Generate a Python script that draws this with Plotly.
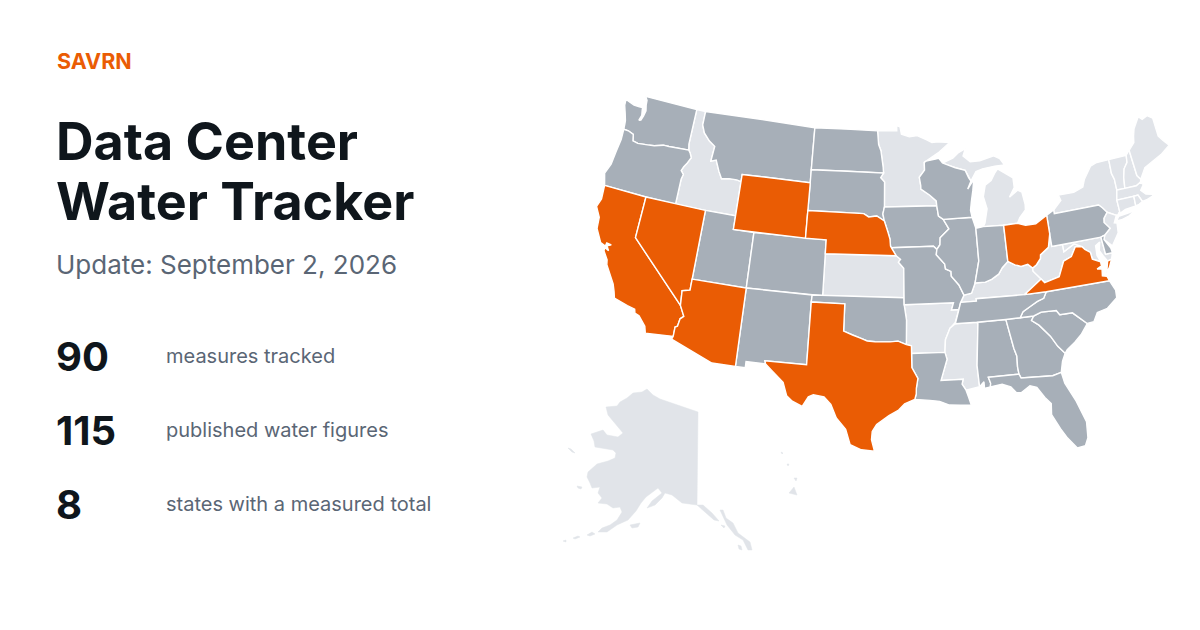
import plotly.graph_objects as go

# state outlines, (lon, lat), read off by hand because the topojson is not reachable
# shared borders live in their own lists so neighbours line up
COLUMBIA = [(-124.0,46.26),(-123.5,46.25),(-122.9,46.1),(-122.75,45.65),(-122.2,45.57),(-121.2,45.65),(-120.5,45.72),(-119.6,45.92),(-119.0,45.93),(-116.92,46.0)]
SNAKE = [(-117.03,42.0),(-117.03,43.83),(-116.92,44.2),(-117.22,44.45),(-117.05,44.75),(-116.83,45.0),(-116.5,45.5),(-116.7,45.8),(-116.92,46.0)]
ID_MT = [(-116.05,49.0),(-116.05,48.0),(-115.7,47.45),(-115.0,46.95),(-114.35,46.65),(-114.45,45.55),(-113.93,45.7),(-113.45,44.95),(-113.05,44.45),(-112.3,44.55),(-111.5,44.55),(-111.05,44.48)]
RED_RIVER = [(-100.0,34.56),(-99.2,34.3),(-98.5,34.1),(-97.9,33.9),(-97.2,33.85),(-96.6,33.85),(-95.9,33.85),(-95.2,33.9),(-94.48,33.64)]
CO_RIVER = [(-114.05,36.2),(-114.74,36.05),(-114.63,35.0),(-114.15,34.27),(-114.43,34.05),(-114.53,33.5),(-114.72,33.4),(-114.72,32.72)]
MO_RIVER = [(-98.5,43.0),(-98.0,42.77),(-97.2,42.85),(-96.45,42.49),(-96.1,41.7),(-95.9,41.2),(-95.85,40.7),(-95.77,40.58),(-95.31,40.0),(-94.9,39.75),(-95.1,39.55),(-94.61,39.11)]
UPPER_MISS = [(-91.22,43.5),(-91.1,42.75),(-90.65,42.5),(-90.15,41.8),(-91.05,41.2),(-91.1,40.7),(-91.42,40.38),(-91.5,40.0),(-90.75,39.3),(-90.7,38.95),(-90.2,38.75),(-90.2,38.4),(-89.55,37.75),(-89.15,37.0)]
LOWER_MISS = [(-89.5,36.5),(-89.7,36.0),(-90.1,35.1),(-90.6,34.7),(-91.05,33.9),(-91.15,33.0),(-91.0,32.5),(-91.6,31.0)]
OHIO_RIVER = [(-82.6,38.4),(-83.0,38.72),(-83.65,38.63),(-84.2,38.8),(-84.82,39.1),(-85.4,38.7),(-85.8,38.27),(-86.5,37.95),(-87.1,37.8),(-88.05,37.8),(-88.45,37.1),(-89.15,37.0)]
OHIO_WV = [(-80.52,40.64),(-80.85,39.7),(-81.7,39.25),(-81.75,39.0),(-82.2,38.6),(-82.6,38.4)]
SC_GA = [(-83.1,35.0),(-83.35,34.7),(-82.75,34.3),(-81.9,33.4),(-81.4,32.6),(-80.87,32.03)]
NC_TN = [(-84.32,35.0),(-84.0,35.4),(-83.2,35.75),(-82.6,36.0),(-82.0,36.15),(-81.68,36.59)]
NC_SC = [(-83.1,35.0),(-82.4,35.2),(-81.05,35.15),(-80.8,34.82),(-79.67,34.8),(-78.55,33.86)]
VA_WV = [(-81.97,37.54),(-81.7,37.25),(-80.3,37.5),(-79.65,38.55),(-78.87,38.77),(-78.35,39.4),(-77.72,39.32)]
VT_NH = [(-71.5,45.01),(-71.6,44.5),(-72.05,44.1),(-72.3,43.5),(-72.46,42.73)]
GULF_LA = [(-89.55,30.2),(-89.4,29.75),(-89.2,29.1),(-90.1,29.15),(-91.0,29.2),(-91.8,29.5),(-92.6,29.6),(-93.85,29.7)]
SABINE = [(-93.85,29.7),(-93.72,30.1),(-93.7,30.5),(-93.55,31.2),(-94.04,31.99),(-94.04,33.0),(-94.04,33.55),(-94.48,33.64)]

WA = [(-122.76,49.0),(-122.5,48.75),(-122.45,48.4),(-122.3,48.0),(-122.4,47.6),(-122.55,47.25),(-122.75,47.2),(-122.6,47.6),(-122.7,47.95),(-122.75,48.15),(-123.1,48.15),(-123.7,48.16),(-124.7,48.38),(-124.65,47.95),(-124.35,47.4),(-124.1,46.9),(-124.05,46.65)] + COLUMBIA + [(-117.04,46.42),(-117.03,49.0)]
OR = COLUMBIA + SNAKE[::-1] + [(-120.0,42.0),(-124.2,42.0),(-124.55,42.84),(-124.2,43.6),(-124.08,44.6),(-123.95,45.5)]
ID = SNAKE + [(-117.04,46.42),(-117.03,49.0)] + ID_MT + [(-111.05,42.0),(-114.04,42.0)]
MT = ID_MT + [(-111.05,45.0),(-104.04,45.0),(-104.05,45.94),(-104.05,49.0)]
WY = [(-111.05,45.0),(-104.04,45.0),(-104.05,43.0),(-104.05,41.0),(-111.05,41.0),(-111.05,42.0)]
UT = [(-114.04,42.0),(-111.05,42.0),(-111.05,41.0),(-109.05,41.0),(-109.05,37.0),(-114.05,37.0)]
CO = [(-109.05,41.0),(-102.05,41.0),(-102.05,40.0),(-102.05,37.0),(-109.05,37.0)]
NV = [(-120.0,42.0),(-114.04,42.0),(-114.05,37.0)] + CO_RIVER[:3] + [(-120.0,39.0)]
CA = [(-124.2,42.0),(-120.0,42.0),(-120.0,39.0)] + CO_RIVER[2:] + [(-117.13,32.53),(-117.3,33.0),(-118.0,33.65),(-118.4,33.75),(-118.5,34.03),(-119.2,34.15),(-120.47,34.45),(-120.65,34.9),(-120.9,35.4),(-121.9,36.6),(-122.0,36.95),(-122.5,37.5),(-122.5,37.75),(-122.1,37.6),(-122.35,37.9),(-122.0,38.05),(-122.45,38.1),(-122.5,37.85),(-123.0,38.0),(-123.7,38.9),(-123.8,39.7),(-124.35,40.4),(-124.1,41.0)]
AZ = [(-114.05,37.0),(-109.05,37.0),(-109.05,31.33),(-111.07,31.33),(-114.81,32.5)] + CO_RIVER[::-1]
NM = [(-109.05,37.0),(-103.0,37.0),(-103.04,36.5),(-103.04,32.0),(-106.62,32.0),(-106.53,31.78),(-108.21,31.78),(-108.21,31.33),(-109.05,31.33)]
TX = [(-103.04,36.5),(-100.0,36.5)] + RED_RIVER + SABINE[::-1] + [(-94.7,29.4),(-95.2,28.95),(-96.0,28.55),(-97.0,27.9),(-97.35,27.4),(-97.4,26.8),(-97.15,25.96),(-98.2,26.05),(-99.1,26.4),(-99.5,27.5),(-100.3,28.3),(-100.8,29.25),(-101.4,29.77),(-102.3,29.88),(-102.7,29.7),(-103.15,28.98),(-104.0,29.3),(-104.5,29.65),(-104.9,30.6),(-106.0,31.4),(-106.53,31.78),(-106.62,32.0),(-103.04,32.0)]
OK = [(-103.0,37.0),(-94.62,37.0),(-94.62,36.5),(-94.43,35.4)] + RED_RIVER[::-1] + [(-100.0,36.5),(-103.04,36.5)]
KS = [(-102.05,40.0),(-95.31,40.0),(-94.9,39.75),(-95.1,39.55),(-94.61,39.11),(-94.62,37.0),(-102.05,37.0)]
NE = [(-104.05,43.0)] + MO_RIVER[:9] + [(-102.05,40.0),(-102.05,41.0),(-104.05,41.0)]
SD = [(-104.05,45.94),(-96.56,45.94),(-96.85,45.6),(-96.45,45.3),(-96.45,43.5),(-96.6,43.0),(-96.45,42.49),(-97.2,42.85),(-98.0,42.77),(-98.5,43.0),(-104.05,43.0)]
ND = [(-104.05,49.0),(-97.23,49.0),(-97.1,48.0),(-96.85,47.55),(-96.6,46.35),(-96.56,45.94),(-104.05,45.94)]
MN = [(-97.23,49.0),(-95.15,49.0),(-95.15,49.38),(-94.8,49.3),(-94.65,48.75),(-93.8,48.55),(-92.95,48.62),(-92.0,48.3),(-91.4,48.07),(-90.75,48.1),(-89.5,48.0),(-90.8,47.3),(-92.1,46.75),(-92.3,46.66),(-92.3,46.1),(-92.87,45.6),(-92.75,45.0),(-92.75,44.75),(-91.9,44.3),(-91.25,43.85),(-91.22,43.5),(-96.45,43.5),(-96.45,45.3),(-96.85,45.6),(-96.56,45.94),(-96.6,46.35),(-96.85,47.55),(-97.1,48.0)]
IA = [(-96.45,43.5)] + UPPER_MISS[:7] + [(-91.73,40.61),(-95.77,40.58),(-95.85,40.7),(-95.9,41.2),(-96.1,41.7),(-96.45,42.49),(-96.6,43.0)]
MO = [(-95.77,40.58),(-91.73,40.61)] + UPPER_MISS[6:] + [(-89.5,36.5),(-89.7,36.0),(-90.37,36.0),(-90.15,36.5),(-94.62,36.5),(-94.62,37.0),(-94.61,39.11),(-95.1,39.55),(-94.9,39.75),(-95.31,40.0)]
AR = [(-94.62,36.5),(-90.15,36.5),(-90.37,36.0)] + LOWER_MISS[1:6] + [(-94.04,33.0),(-94.04,33.55),(-94.48,33.64),(-94.43,35.4)]
LA = [(-94.04,33.0)] + LOWER_MISS[5:] + [(-89.73,31.0),(-89.85,30.65)] + GULF_LA + SABINE[1:5]
MS = [(-90.1,35.0),(-88.2,35.0),(-88.1,34.9),(-88.47,31.9),(-88.4,30.37),(-89.55,30.2),(-89.85,30.65),(-89.73,31.0)] + LOWER_MISS[:2:-1]
AL = [(-88.2,35.0),(-85.6,35.0),(-85.18,32.87),(-85.0,32.3),(-85.05,31.55),(-85.0,31.0),(-87.6,31.0),(-87.45,30.55),(-87.5,30.3),(-88.0,30.23),(-88.0,30.7),(-88.4,30.37),(-88.47,31.9),(-88.1,34.9)]
GA = [(-85.6,35.0)] + SC_GA + [(-81.2,31.5),(-81.45,30.72),(-82.2,30.57),(-84.86,30.7),(-85.0,31.0),(-85.05,31.55),(-85.0,32.3),(-85.18,32.87)]
FL = [(-87.6,31.0),(-85.0,31.0),(-84.86,30.7),(-82.2,30.57),(-81.45,30.72),(-81.3,29.9),(-80.6,28.5),(-80.05,26.9),(-80.15,25.75),(-80.45,25.2),(-81.1,25.13),(-81.75,25.95),(-82.2,26.7),(-82.75,27.8),(-82.65,28.6),(-83.1,29.1),(-83.65,29.9),(-84.2,30.08),(-85.0,29.65),(-85.4,29.7),(-85.8,30.15),(-86.5,30.4),(-87.5,30.3),(-87.45,30.55)]
SC = NC_SC + [(-79.2,33.2),(-79.9,32.7),(-80.65,32.25)] + SC_GA[::-1]
NC = NC_TN[:1] + NC_SC + [(-77.95,33.9),(-77.5,34.5),(-76.55,34.65),(-75.55,35.25),(-75.5,35.8),(-75.87,36.55)] + NC_TN[:0:-1]
TN = [(-90.1,35.0),(-88.2,35.0),(-85.6,35.0)] + NC_TN + [(-83.68,36.6),(-88.07,36.68),(-88.07,36.5),(-89.5,36.5),(-89.7,36.0)]
KY = [(-89.5,36.5),(-88.07,36.5),(-88.07,36.68),(-83.68,36.6),(-81.97,37.54),(-82.6,38.17)] + OHIO_RIVER
WV = OHIO_WV[::-1] + [(-80.52,39.72),(-79.48,39.72),(-79.48,39.2),(-78.4,39.63)] + VA_WV[::-1] + [(-82.6,38.17)]
VA = [(-83.68,36.6),(-81.68,36.59),(-75.87,36.55),(-76.0,36.9),(-76.4,37.0),(-76.3,37.5),(-76.75,37.55),(-76.3,37.7),(-76.3,38.0),(-77.0,38.3),(-77.05,38.8),(-77.5,39.1)] + VA_WV[::-1]
VA_SHORE = [(-75.95,37.15),(-75.65,37.95),(-75.25,38.03),(-75.6,37.5)]
MD = [(-79.48,39.72),(-75.79,39.72),(-75.7,38.46),(-75.05,38.45),(-75.25,38.03),(-75.65,37.95),(-75.9,38.3),(-76.2,38.8),(-76.0,39.4),(-76.45,39.2),(-76.5,38.5),(-76.3,38.05),(-77.0,38.3),(-77.05,38.8),(-77.5,39.1),(-77.72,39.32),(-78.4,39.63),(-79.48,39.2)]
DE = [(-75.79,39.72),(-75.4,39.8),(-75.55,39.5),(-75.1,38.8),(-75.05,38.45),(-75.7,38.46)]
PA = [(-80.52,41.98),(-79.76,42.27),(-79.76,42.0),(-75.35,42.0),(-75.05,41.75),(-74.7,41.36),(-75.13,40.98),(-75.2,40.7),(-74.75,40.2),(-75.4,39.8),(-75.79,39.72),(-80.52,39.72),(-80.52,40.64)]
NJ = [(-74.7,41.36),(-73.9,41.0),(-74.25,40.5),(-74.0,40.45),(-74.1,39.75),(-74.9,38.93),(-75.55,39.5),(-75.4,39.8),(-74.75,40.2),(-75.2,40.7),(-75.13,40.98)]
NY = [(-79.76,42.27),(-78.9,42.85),(-79.05,43.27),(-77.5,43.25),(-76.5,43.5),(-76.2,44.0),(-75.3,44.85),(-74.7,45.0),(-73.34,45.01),(-73.4,44.0),(-73.25,43.55),(-73.27,42.75),(-73.5,42.05),(-73.49,41.2),(-73.73,41.0),(-73.9,41.0),(-74.7,41.36),(-75.05,41.75),(-75.35,42.0),(-79.76,42.0)]
LONG_ISLAND = [(-74.0,40.6),(-73.7,40.88),(-72.6,40.97),(-71.9,41.07),(-72.7,40.75),(-73.5,40.6)]
VT = [(-73.34,45.01)] + VT_NH + [(-73.27,42.75),(-73.25,43.55),(-73.4,44.0)]
NH = VT_NH + [(-71.3,42.7),(-70.82,42.87),(-70.7,43.07),(-70.98,43.4),(-71.08,45.3)]
ME = [(-71.08,45.3),(-70.4,45.75),(-70.25,46.2),(-70.0,46.7),(-69.23,47.46),(-68.9,47.2),(-68.3,47.35),(-67.8,47.07),(-67.8,45.7),(-67.45,45.3),(-67.0,44.85),(-68.0,44.4),(-69.0,44.1),(-70.0,43.8),(-70.7,43.07),(-70.98,43.4)]
MA = [(-73.5,42.05),(-73.27,42.75),(-72.46,42.73),(-71.3,42.7),(-70.82,42.87),(-70.6,42.65),(-71.0,42.3),(-70.6,41.95),(-70.0,41.8),(-70.2,42.07),(-69.95,41.7),(-70.6,41.55),(-71.12,41.5),(-71.38,42.02),(-71.8,42.02)]
CT = [(-73.5,42.05),(-71.8,42.02),(-71.85,41.32),(-72.9,41.25),(-73.73,41.0),(-73.49,41.2)]
RI = [(-71.8,42.02),(-71.38,42.02),(-71.12,41.5),(-71.5,41.37),(-71.85,41.32)]
OH = [(-84.81,41.7),(-83.45,41.72),(-82.7,41.5),(-81.7,41.5),(-80.52,41.98)] + OHIO_WV + OHIO_RIVER[1:5]
IN = [(-87.53,41.7),(-86.8,41.76),(-84.81,41.7)] + OHIO_RIVER[4:10] + [(-87.53,39.35)]
IL = [(-90.65,42.5),(-87.8,42.5),(-87.53,41.7),(-87.53,39.35)] + OHIO_RIVER[9:] + UPPER_MISS[:1:-1]
WI = [(-92.3,46.66),(-92.1,46.75),(-90.75,46.9),(-90.4,46.55),(-89.1,46.15),(-88.1,45.9),(-87.8,45.35),(-87.6,45.1),(-88.0,44.55),(-87.3,45.2),(-87.5,44.4),(-87.75,43.6),(-87.9,43.0),(-87.8,42.5),(-90.65,42.5),(-91.1,42.75),(-91.22,43.5),(-91.25,43.85),(-91.9,44.3),(-92.75,44.75),(-92.75,45.0),(-92.87,45.6),(-92.3,46.1)]
MI_LOWER = [(-86.8,41.76),(-84.81,41.7),(-83.45,41.72),(-83.15,42.1),(-82.5,42.6),(-82.45,43.0),(-82.6,43.9),(-83.0,44.07),(-83.9,43.65),(-83.3,44.3),(-83.3,45.0),(-84.75,45.78),(-85.1,45.5),(-85.55,45.0),(-86.2,44.7),(-86.5,43.9),(-86.25,43.0),(-86.6,42.0)]
MI_UPPER = [(-90.4,46.55),(-89.1,46.15),(-88.1,45.9),(-87.6,45.1),(-87.0,45.75),(-86.3,45.9),(-85.0,46.0),(-84.0,46.0),(-84.4,46.5),(-85.0,46.75),(-86.5,46.5),(-87.5,46.5),(-88.2,46.95),(-87.9,47.47),(-88.7,47.2),(-89.3,46.85)]

# Alaska and Hawaii sit in their own inset in the reference, so these two are page pixels
AK = [(698,412),(697,505),(682,503),(678,500),(672,495),(665,493),(662,498),(655,505),(647,508),(652,501),(662,493),(658,488),(646,497),(641,503),(636,511),(628,520),(617,525),(607,532),(598,532),(602,528),(610,525),(617,520),(622,512),(620,507),(613,508),(607,504),(598,503),(602,498),(598,493),(600,487),(592,488),(590,483),(587,477),(588,472),(597,464),(608,461),(615,458),(616,453),(613,450),(595,447),(594,441),(591,434),(603,430),(607,435),(618,437),(623,433),(617,426),(615,423),(608,415),(606,407),(617,406),(620,402),(627,398),(633,393),(642,392),(647,389),(653,395),(660,399),(675,404),(688,408)]
AK_PANHANDLE = [(697,505),(703,505),(712,513),(719,521),(714,520),(704,511)]
AK_COAST = [(720,510),(723,510),(726,518),(733,523),(738,533),(750,542),(752,550),(748,550),(743,540),(735,535),(727,525)]
AK_ISLANDS = [
    [(630,525),(640,523),(638,527),(632,528)],
    [(577,486),(582,487),(581,489),(578,488)],
    [(568,448),(571,449),(575,453),(572,452)],
    [(587,535),(592,532),(595,534),(590,536)],
    [(573,538),(578,536),(580,537),(575,539)],
    [(563,541),(566,540),(566,542)],
    [(721,525),(725,526),(724,528)],
    [(738,545),(741,546),(742,550),(739,549)],
]
HI = [
    [(789,493),(794,487),(797,495)],
    [(794,478),(797,478),(796,481)],
    [(787,464),(789,464),(788,466)],
    [(781,452),(783,453),(782,454)],
]

orange_states = {"CA": [CA], "NV": [NV], "AZ": [AZ], "WY": [WY], "NE": [NE], "TX": [TX], "OH": [OH], "VA": [VA, VA_SHORE]}
grey_states = {"WA": [WA], "OR": [OR], "MT": [MT], "ND": [ND], "SD": [SD], "UT": [UT], "CO": [CO], "NM": [NM], "OK": [OK], "IA": [IA], "MO": [MO], "IL": [IL], "WI": [WI], "IN": [IN], "LA": [LA], "AL": [AL], "GA": [GA], "SC": [SC], "NC": [NC], "TN": [TN], "FL": [FL], "PA": [PA], "DE": [DE]}
light_states = {"ID": [ID], "MN": [MN], "MI": [MI_LOWER, MI_UPPER], "KS": [KS], "AR": [AR], "MS": [MS], "KY": [KY], "WV": [WV], "NY": [NY, LONG_ISLAND], "VT": [VT], "NH": [NH], "ME": [ME], "MA": [MA], "CT": [CT], "RI": [RI], "NJ": [NJ], "MD": [MD]}
inset_rings = [AK, AK_PANHANDLE, AK_COAST] + AK_ISLANDS + HI

stat_values = ["90", "115", "8"]
stat_labels = ["measures tracked", "published water figures", "states with a measured total"]

ORANGE = "#ea5c04"
GREY = "#a7afb8"
LIGHT = "#e1e4e9"
INK = "#0f161c"
MUTED = "#5a6675"

# geo clips to its frame and the frame needs more room than the 1200px page has,
# so the figure runs wider than the window and the overflow is hidden
PAGE_W = 1400


def clockwise(ring):
    # d3 treats counter-clockwise rings as "everything but", so force the order
    area = sum(a[0] * b[1] - b[0] * a[1] for a, b in zip(ring, ring[1:] + ring[:1]))
    return ring if area < 0 else ring[::-1]


fig = go.Figure()

for group, colour in [(light_states, LIGHT), (grey_states, GREY), (orange_states, ORANGE)]:
    for name, rings in group.items():
        lons, lats = [], []
        for ring in rings:
            ring = clockwise(ring)
            lons += [p[0] for p in ring] + [ring[0][0], None]
            lats += [p[1] for p in ring] + [ring[0][1], None]
        fig.add_trace(go.Scattergeo(
            lon=lons, lat=lats, mode="lines", fill="toself", fillcolor=colour,
            line=dict(color="white", width=1.4), name=name, hoverinfo="skip", showlegend=False,
        ))

inset_x, inset_y = [], []
for ring in inset_rings:
    inset_x += [p[0] for p in ring] + [ring[0][0], None]
    inset_y += [p[1] for p in ring] + [ring[0][1], None]
fig.add_trace(go.Scatter(
    x=inset_x, y=inset_y, mode="lines", fill="toself", fillcolor=LIGHT,
    line=dict(color=LIGHT, width=0.5), hoverinfo="skip", showlegend=False,
))

FONT = "Inter"
fig.add_annotation(x=55, y=61, text="<b>SAVRN</b>", font=dict(family=FONT, size=21.5, color=ORANGE))
fig.add_annotation(x=54, y=141, text="<b>Data Center</b>", font=dict(family=FONT, size=52, color=INK))
fig.add_annotation(x=54, y=201, text="<b>Water Tracker</b>", font=dict(family=FONT, size=52, color=INK))
fig.add_annotation(x=54, y=264, text="Update: September 2, 2026", font=dict(family=FONT, size=26, color=MUTED))
for i, y in enumerate([356, 430, 504]):
    fig.add_annotation(x=54, y=y, text="<b>%s</b>" % stat_values[i], font=dict(family=FONT, size=40, color=INK))
    fig.add_annotation(x=164, y=y, text=stat_labels[i], font=dict(family=FONT, size=20, color=MUTED))
fig.update_annotations(xref="x", yref="y", xanchor="left", yanchor="middle", showarrow=False)

fig.update_layout(
    width=PAGE_W, height=630, margin=dict(l=0, r=0, t=0, b=0),
    paper_bgcolor="white", plot_bgcolor="white", showlegend=False,
    xaxis=dict(range=[0, PAGE_W], visible=False, fixedrange=True),
    yaxis=dict(range=[630, 0], visible=False, fixedrange=True),
    geo=dict(
        scope="usa", projection=dict(type="albers usa"), bgcolor="rgba(0,0,0,0)",
        showland=False, showlakes=False, showsubunits=False, showcountries=False,
        showcoastlines=False, showocean=False, showrivers=False, showframe=False,
        domain=dict(x=[521 / PAGE_W, 1244 / PAGE_W], y=[0.2095, 0.9206]),
    ),
)
# the page's default body margin would push everything 8px down and right
fig.write_html("out.html", config=dict(displayModeBar=False),
               post_script="document.body.style.margin='0';document.body.style.overflow='hidden';")
